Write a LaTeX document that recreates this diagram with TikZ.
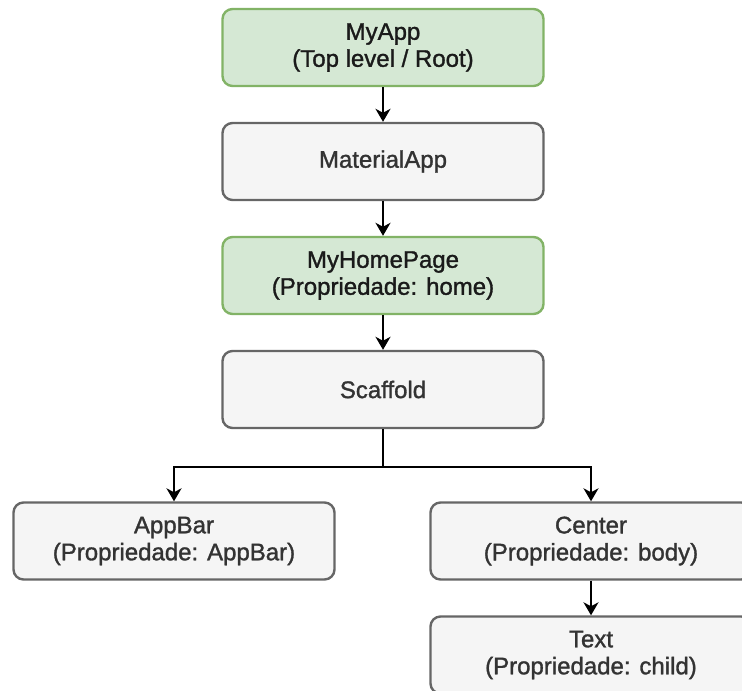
\documentclass[tikz,border=0pt]{standalone}
\usepackage{fontspec}
\setmainfont{Liberation Sans}
\newfontfamily\boxfont[FakeBold=1.3]{Liberation Sans}
\usetikzlibrary{arrows.meta,calc}
\definecolor{greenfill}{HTML}{D5E8D4}
\definecolor{greenline}{HTML}{82B366}
\definecolor{greyfill}{HTML}{F5F5F5}
\definecolor{greyline}{HTML}{666666}
\definecolor{greytext}{HTML}{333333}
\definecolor{darktext}{HTML}{1A1A1A}

\tikzset{
  box/.style={rounded corners=10pt, minimum width=321pt, minimum height=77pt,
    line width=2.4pt, align=center, inner sep=0pt,
    font=\boxfont\fontsize{24}{27}\selectfont},
  greenbox/.style={box, fill=greenfill, draw=greenline, text=darktext},
  greybox/.style={box, fill=greyfill, draw=greyline, text=greytext},
  link/.style={line width=2pt, draw=black,
    -{Stealth[length=13pt, width=15pt, inset=4pt]}}
}

\begin{document}
\begin{tikzpicture}[x=1pt, y=-1pt]
  \useasboundingbox (0,0) rectangle (742,691);
  \clip (0,0) rectangle (742,691);

  % widget tree
  \node[greenbox] (myapp)    at (383,47.5)  {MyApp\\(Top level / Root)};
  \node[greybox]  (material) at (383,161.5) {MaterialApp};
  \node[greenbox] (home)     at (383,275.5) {MyHomePage\\(Propriedade: home)};
  \node[greybox]  (scaffold) at (383,389.5) {Scaffold};
  \node[greybox]  (appbar)   at (174,541)   {AppBar\\(Propriedade: AppBar)};
  \node[greybox]  (center)   at (591,541)   {Center\\(Propriedade: body)};
  \node[greybox]  (text)     at (591,655)   {Text\\(Propriedade: child)};

  % connectors
  \draw[link] (myapp) -- (material);
  \draw[link] (material) -- (home);
  \draw[link] (home) -- (scaffold);
  \coordinate (split) at ($(scaffold.south)+(0,37.5)$);
  \draw[line width=2pt] (scaffold.south) -- (split);
  \draw[link] (split) -| (appbar.north);
  \draw[link] (split) -| (center.north);
  \draw[link] (center) -- (text);
\end{tikzpicture}
\end{document}
